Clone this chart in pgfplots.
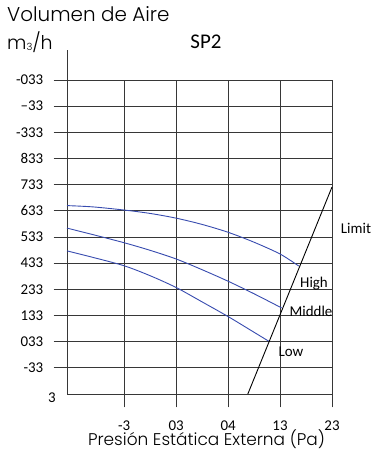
\documentclass[border=0pt]{standalone}
\usepackage{pgfplots}
\pgfplotsset{compat=1.18}
\usepackage{fontspec}
\setmainfont{Carlito}
\newfontfamily\titlefont{Poppins Light}
\definecolor{curve}{RGB}{55,75,175}
\definecolor{gridc}{RGB}{55,55,55}
\begin{document}
\begin{tikzpicture}[x=1bp,y=1bp]
\useasboundingbox (0,0) rectangle (375,450);
\begin{axis}[
  at={(67bp,56bp)}, anchor=south west,
  scale only axis, width=265bp, height=314bp,
  xmin=0, xmax=5.1, ymin=0, ymax=12,
  axis lines=left, axis line style={-, gridc, line width=0.9bp},
  tick align=outside, major tick length=13.5bp,
  tick style={gridc, line width=0.9bp},
  grid=major, grid style={gridc, line width=0.9bp},
  xtick={1.1,2.1,3.1,4.1,5.1},
  xticklabels={-3,03,04,13,23},
  ytick={1,...,12},
  yticklabels={-33,033,133,233,433,533,633,733,833,-333,--33,-033},
  extra y ticks={0}, extra y tick labels={3},
  extra y tick style={major tick length=0pt, grid=none, yticklabel style={xshift=-1bp, yshift=-4bp}},
  ticklabel style={font=\fontsize{15}{15}\selectfont, inner sep=0pt},
  yticklabel style={xshift=-10bp},
  xticklabel style={yshift=-13bp},
  clip=false,
]
\draw[gridc, line width=0.9bp] (axis cs:0,12) -- (axis cs:0,13.15);
\addplot[curve, line width=0.9bp, smooth] coordinates {
 (0,7.20) (0.5,7.15) (1.1,7.03) (1.6,6.90) (2.1,6.72) (2.6,6.48) (3.1,6.18) (3.6,5.80) (4.1,5.35) (4.46,4.89)};
\addplot[curve, line width=0.9bp, smooth] coordinates {
 (0,6.34) (0.5,6.09) (1.1,5.78) (1.6,5.49) (2.1,5.16) (2.6,4.75) (3.1,4.31) (3.6,3.83) (4.13,3.29)};
\addplot[curve, line width=0.9bp, smooth] coordinates {
 (0,5.47) (0.5,5.22) (1.1,4.90) (1.6,4.52) (2.1,4.07) (2.6,3.52) (3.1,2.96) (3.5,2.48) (3.88,2.02)};
\addplot[black, line width=0.9bp] coordinates {(3.48,0) (5.1,7.91)};
\end{axis}
\node[font=\fontsize{15}{15}\selectfont] at (356,222) {Limit};
\node[font=\fontsize{15}{15}\selectfont] at (314,166) {High};
\node[font=\fontsize{15}{15}\selectfont] at (311,139) {Middle};
\node[font=\fontsize{15}{15}\selectfont] at (291,98) {Low};
\node[font=\fontsize{21}{21}\selectfont] at (206,408) {SP2};
\node[anchor=base west, inner sep=0pt, font=\titlefont\fontsize{20}{20}\selectfont] at (7,428) {Volumen de Aire};
\node[anchor=base west, inner sep=0pt, font=\titlefont\fontsize{19}{19}\selectfont] at (7,400) {m\raisebox{-0.5bp}{\fontsize{10}{10}\selectfont 3}/h};
\node[inner sep=0pt, font=\titlefont\fontsize{17}{17}\selectfont] at (206.5,11) {Presión Estática Externa (Pa)};
\end{tikzpicture}
\end{document}
